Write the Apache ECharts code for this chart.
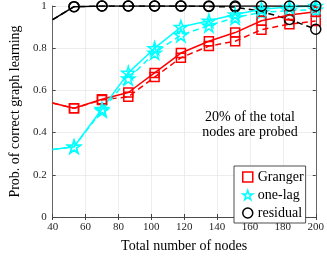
<!DOCTYPE html>
<html>
<head>
<meta charset="utf-8">
<script src="https://cdn.jsdelivr.net/npm/echarts@6/dist/echarts.min.js"></script>
<style>html,body{margin:0;padding:0;background:#fff}#c{width:327px;height:258px}</style>
</head>
<body>
<div id="c"></div>
<script>
var xNodes = [40, 53, 70, 86, 102, 118, 135, 151, 167, 184, 200];
var grangerSolid = [0.54, 0.515, 0.558, 0.59, 0.683, 0.777, 0.833, 0.874, 0.93, 0.957, 0.973];
var grangerDashed = [0.54, 0.515, 0.555, 0.57, 0.663, 0.755, 0.81, 0.833, 0.888, 0.914, 0.929];
var oneLagSolid = [0.32, 0.333, 0.512, 0.683, 0.8, 0.9, 0.93, 0.96, 0.985, 0.995, 1.0];
var oneLagDashed = [0.32, 0.333, 0.505, 0.656, 0.778, 0.862, 0.908, 0.945, 0.97, 0.978, 0.982];
var residualSolid = [0.935, 0.997, 1, 1, 1, 1, 1, 1, 1, 1, 1];
var residualDashed = [0.935, 0.997, 1, 1, 1, 1, 0.998, 0.995, 0.974, 0.936, 0.89];
var xTicks = [40, 60, 80, 100, 120, 140, 160, 180, 200];
var yTickLabels = ['0', '0.2', '0.4', '0.6', '0.8', '1'];
var legendNames = ['Granger', 'one-lag', 'residual'];
var annotation = ['20% of the total', 'nodes are probed'];

var FONT = 'Liberation Serif';
var STAR = 'path://M0,-10L2.245,-3.09L9.51,-3.09L3.633,1.18L5.878,8.09L0,3.82L-5.878,8.09L-3.633,1.18L-9.51,-3.09L-2.245,-3.09Z';
var SQUARE = 'path://M0,0L10,0L10,10L0,10Z';

function pts(vals) {
  return xNodes.map(function (x, i) {
    var d = { value: [x, vals[i]] };
    if (i === 0) d.symbol = 'none';
    return d;
  });
}
function mk(name, vals, color, symbol, size, dashed) {
  return {
    name: name, type: 'line', data: pts(vals), clip: true,
    symbol: symbol, symbolSize: size, showSymbol: true,
    lineStyle: { color: color, width: 1.5, type: dashed ? [6, 4] : 'solid' },
    itemStyle: { color: 'transparent', borderColor: color, borderWidth: 1.5 },
    emphasis: { disabled: true }, z: dashed ? 2 : 3
  };
}

var chart = echarts.init(document.getElementById('c'));
var axisCol = '#444';
chart.setOption({
  animation: false,
  grid: { left: 33, right: 9, top: 6, bottom: 32 },
  xAxis: [{
    type: 'value', min: 40, max: 200, interval: 20,
    name: 'Total number of nodes', nameLocation: 'middle', nameGap: 22,
    nameTextStyle: { fontFamily: FONT, fontSize: 14, color: '#000' },
    axisLine: { show: true, lineStyle: { color: axisCol, width: 0.8 } },
    axisTick: { show: true, inside: true, length: 3, lineStyle: { color: axisCol } },
    axisLabel: { fontFamily: FONT, fontSize: 11, color: '#262626', margin: 5,
      formatter: function (v) { return xTicks.indexOf(v) >= 0 ? String(v) : ''; } },
    splitLine: { show: true, lineStyle: { color: '#e8e8e8', width: 0.8 } }
  }, {
    type: 'value', position: 'top', min: 40, max: 200, interval: 20,
    axisLine: { show: true, lineStyle: { color: axisCol, width: 0.8 } },
    axisTick: { show: true, inside: true, length: 3, lineStyle: { color: axisCol } },
    axisLabel: { show: false }, splitLine: { show: false }
  }],
  yAxis: [{
    type: 'value', min: 0, max: 1, interval: 0.2,
    name: 'Prob. of correct graph learning', nameLocation: 'middle', nameGap: 21,
    nameTextStyle: { fontFamily: FONT, fontSize: 14, color: '#000' },
    axisLine: { show: true, lineStyle: { color: axisCol, width: 0.8 } },
    axisTick: { show: true, inside: true, length: 3, lineStyle: { color: axisCol } },
    axisLabel: { fontFamily: FONT, fontSize: 11, color: '#262626', margin: 6,
      formatter: function (v) { return yTickLabels[Math.round(v * 5)]; } },
    splitLine: { show: true, lineStyle: { color: '#e8e8e8', width: 0.8 } }
  }, {
    type: 'value', position: 'right', min: 0, max: 1, interval: 0.2,
    axisLine: { show: true, lineStyle: { color: axisCol, width: 0.8 } },
    axisTick: { show: true, inside: true, length: 3, lineStyle: { color: axisCol } },
    axisLabel: { show: false }, splitLine: { show: false }
  }],
  legend: {
    orient: 'vertical', left: 234, top: 166,
    padding: [4, 2, 3, 8], itemGap: 4, itemWidth: 10, itemHeight: 10,
    backgroundColor: '#fff', borderColor: '#222', borderWidth: 0.8, borderRadius: 0,
    textStyle: { fontFamily: FONT, fontSize: 14, color: '#000', lineHeight: 13 },
    selectedMode: false,
    data: [
      { name: legendNames[0], icon: SQUARE, itemStyle: { color: 'transparent', borderColor: '#ff0000', borderWidth: 1.5 } },
      { name: legendNames[1], icon: STAR, itemStyle: { color: 'transparent', borderColor: '#00ffff', borderWidth: 1.5 } },
      { name: legendNames[2], icon: 'circle', itemStyle: { color: 'transparent', borderColor: '#000000', borderWidth: 1.5 } }
    ]
  },
  graphic: [{
    type: 'text', x: 250, y: 110, z: 10,
    style: { text: annotation.join('\n'), textAlign: 'center', textVerticalAlign: 'top',
      font: '14px "Liberation Serif"', lineHeight: 15, fill: '#000' }
  }],
  series: [
    mk('Granger', grangerSolid, '#ff0000', SQUARE, 9, false),
    mk('Granger (dashed)', grangerDashed, '#ff0000', SQUARE, 9, true),
    mk('one-lag', oneLagSolid, '#00ffff', STAR, 13, false),
    mk('one-lag (dashed)', oneLagDashed, '#00ffff', STAR, 13, true),
    mk('residual', residualSolid, '#000000', 'circle', 10, false),
    mk('residual (dashed)', residualDashed, '#000000', 'circle', 10, true)
  ]
});
</script>
</body>
</html>
